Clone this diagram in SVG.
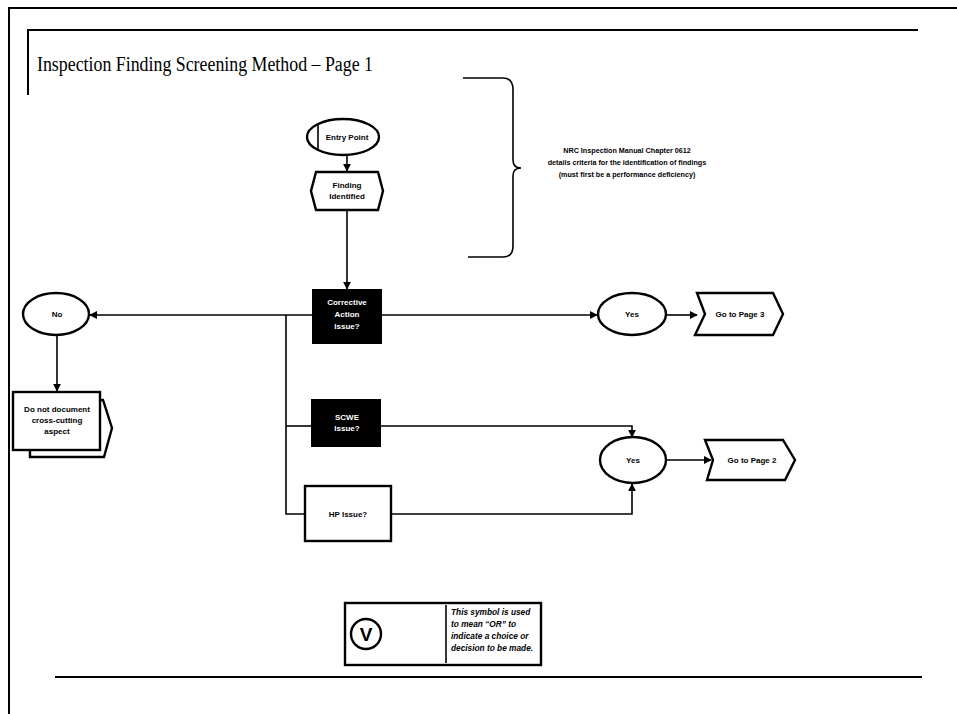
<svg xmlns="http://www.w3.org/2000/svg" width="957" height="714" viewBox="0 0 957 714">
<defs>
<marker id="ah" viewBox="0 0 10 10" refX="9" refY="5" markerWidth="5" markerHeight="5" orient="auto"><path d="M0,0 L10,5 L0,10 Z" fill="#000"/></marker>
<style>
.frame{fill:none;stroke:#000;stroke-width:2}
.ln{fill:none;stroke:#000;stroke-width:1.6}
.lnA{fill:none;stroke:#000;stroke-width:1.6;marker-end:url(#ah)}
.sh{fill:#fff;stroke:#000;stroke-width:2.4}
.dk{fill:#000;stroke:#000;stroke-width:2}
.t{font-family:"Liberation Sans",Arial,sans-serif;font-weight:bold;font-size:8px;text-anchor:middle;fill:#000}
.tw{font-family:"Liberation Sans",Arial,sans-serif;font-weight:bold;font-size:8px;text-anchor:middle;fill:#fff}
.note{font-family:"Liberation Sans",Arial,sans-serif;font-weight:bold;font-size:7.2px;text-anchor:middle;fill:#000}
.leg{font-family:"Liberation Sans",Arial,sans-serif;font-weight:bold;font-style:italic;font-size:8.3px;fill:#000}
.title{font-family:"Liberation Serif","Times New Roman",serif;font-size:20px;fill:#000}
</style>
</defs>
<rect width="957" height="714" fill="#fff"/>
<g id="frame">
<path class="frame" d="M9,714 L9,8 L957,8"/>
<path class="frame" d="M28,95 L28,30 L918,30"/>
<path class="frame" d="M55,677 L922,677"/>
<text class="title" x="37" y="71" textLength="336" lengthAdjust="spacingAndGlyphs">Inspection Finding Screening Method – Page 1</text>
</g>
<g id="note">
<path class="ln" d="M463,78 L503,78 Q513,78 513,90 L513,160 Q513,168 521,168 Q513,168 513,176 L513,246 Q513,257 503,257 L468,257" stroke-width="2"/>
<text class="note" x="627" y="153">NRC Inspection Manual Chapter 0612</text>
<text class="note" x="627" y="165">details criteria for the identification of findings</text>
<text class="note" x="627" y="177">(must first be a performance deficiency)</text>
</g>
<g id="connectors">
<path class="lnA" d="M347,156 L347,171"/>
<path class="lnA" d="M347,210 L347,289"/>
<path class="lnA" d="M313,315 L90,315"/>
<path class="lnA" d="M381,315 L597,315"/>
<path class="lnA" d="M666,315 L697,315"/>
<path class="lnA" d="M57,336 L57,391"/>
<path class="ln" d="M286,315 L286,514 L305,514"/>
<path class="ln" d="M286,426 L312,426"/>
<path class="lnA" d="M380,426 L632,426 L632,437"/>
<path class="lnA" d="M391,514 L632,514 L632,484"/>
<path class="lnA" d="M666,460 L711,460"/>
</g>
<g id="entry-point">
<ellipse class="sh" cx="343" cy="137" rx="36" ry="18"/>
<line class="ln" x1="318" y1="125" x2="318" y2="149"/>
<text class="t" x="347" y="140">Entry Point</text>
</g>
<g id="finding-identified">
<polygon class="sh" points="316,172 378,172 383,191 378,210 316,210 311,191"/>
<text class="t" x="347" y="188">Finding</text>
<text class="t" x="347" y="199">Identified</text>
</g>
<g id="corrective-action">
<rect class="dk" x="313" y="290" width="68" height="53"/>
<text class="tw" x="347" y="305">Corrective</text>
<text class="tw" x="347" y="317">Action</text>
<text class="tw" x="347" y="329">Issue?</text>
</g>
<g id="no">
<ellipse class="sh" cx="56" cy="314" rx="33" ry="21"/>
<text class="t" x="57" y="317">No</text>
</g>
<g id="do-not-document">
<path class="sh" d="M30,400 L103,400 L112,428 L104,457 L30,457 Z"/>
<rect class="sh" x="13" y="392" width="87" height="58"/>
<text class="t" x="57" y="412">Do not document</text>
<text class="t" x="57" y="423">cross-cutting</text>
<text class="t" x="57" y="434">aspect</text>
</g>
<g id="yes-1">
<ellipse class="sh" cx="632" cy="314" rx="34" ry="21"/>
<text class="t" x="632" y="317">Yes</text>
</g>
<g id="go-page-3">
<polygon class="sh" points="697,293 773,293 783,314 773,335 695,335 705,314"/>
<text class="t" x="740" y="317">Go to Page 3</text>
</g>
<g id="scwe">
<rect class="dk" x="312" y="400" width="68" height="46"/>
<text class="tw" x="347" y="420">SCWE</text>
<text class="tw" x="347" y="431">Issue?</text>
</g>
<g id="hp">
<rect class="sh" x="305" y="486" width="86" height="55"/>
<text class="t" x="348" y="517">HP Issue?</text>
</g>
<g id="yes-2">
<ellipse class="sh" cx="633" cy="460" rx="33" ry="23"/>
<text class="t" x="633" y="463">Yes</text>
</g>
<g id="go-page-2">
<polygon class="sh" points="705,440 783,440 795,460 785,480 707,480 713,460"/>
<text class="t" x="752" y="463">Go to Page 2</text>
</g>
<g id="legend">
<rect class="sh" x="345" y="603" width="196" height="62"/>
<line class="ln" x1="446" y1="605" x2="446" y2="663"/>
<circle cx="366" cy="634" r="15" fill="none" stroke="#000" stroke-width="2.4"/>
<text x="366" y="641" font-family="Liberation Sans,Arial,sans-serif" font-weight="bold" font-size="19" text-anchor="middle">V</text>
<text class="leg" x="451" y="615">This symbol is used</text>
<text class="leg" x="451" y="627">to mean “OR” to</text>
<text class="leg" x="451" y="639">indicate a choice or</text>
<text class="leg" x="451" y="651">decision to be made.</text>
</g>
</svg>
